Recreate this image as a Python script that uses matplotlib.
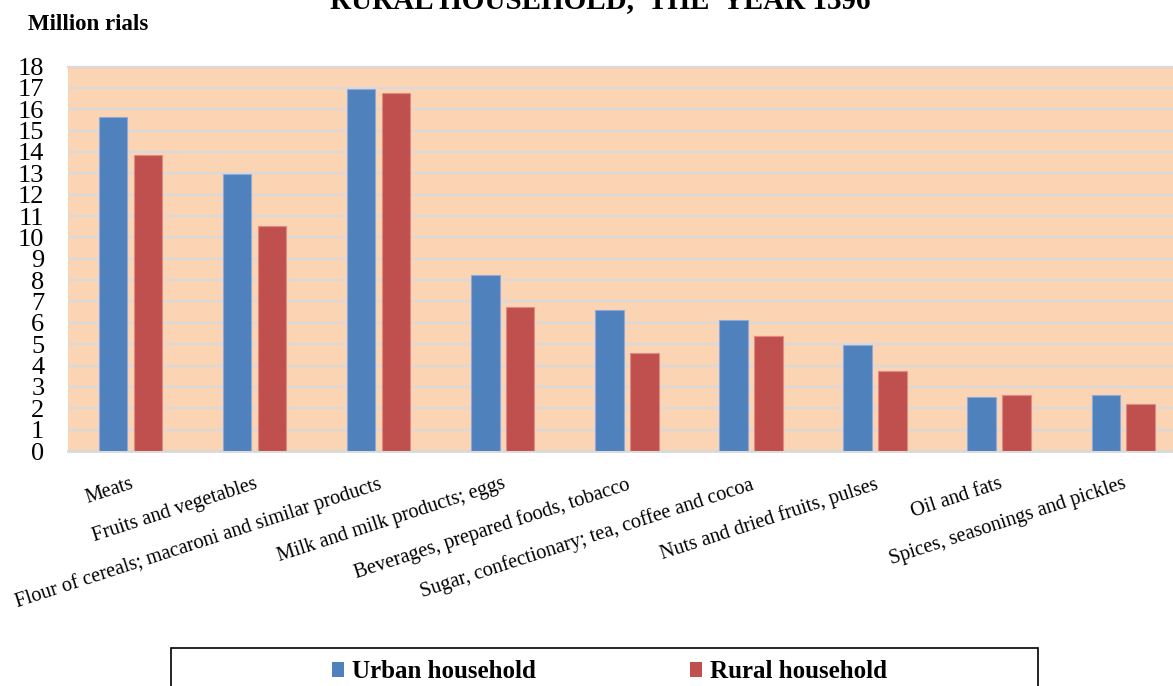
import matplotlib
matplotlib.use("Agg")
import matplotlib.pyplot as plt
import numpy as np
from matplotlib.patches import Rectangle, Patch

plt.rcParams['font.family'] = ['Liberation Serif', 'DejaVu Serif']

categories = [
    "Meats",
    "Fruits and vegetables",
    "Flour of cereals; macaroni and similar products",
    "Milk and milk products; eggs",
    "Beverages, prepared foods, tobacco",
    "Sugar, confectionary; tea, coffee and cocoa",
    "Nuts and dried fruits, pulses",
    "Oil and fats",
    "Spices, seasonings and pickles",
]
urban = [15.64, 12.97, 16.95, 8.23, 6.60, 6.12, 4.98, 2.54, 2.62]
rural = [13.86, 10.51, 16.78, 6.76, 4.57, 5.39, 3.76, 2.62, 2.22]
series_names = ["Urban household", "Rural household"]
yticks = list(range(0, 19))

W, H = 1173, 686
fig = plt.figure(figsize=(W / 100, H / 100), dpi=100)

left_px, right_px = 68, 1185
bot_px, top_px = 451, 66.5
ax = fig.add_axes([left_px / W, 1 - bot_px / H, (right_px - left_px) / W, (bot_px - top_px) / H])
ax.set_facecolor('#FBD4B4')

x = np.arange(len(categories))
bw = 0.23
blue = '#4F81BD'
red = '#C0504D'
ax.bar(x - 0.138, urban, bw, color=blue, edgecolor='#8EAADB', linewidth=0.8, zorder=3)
ax.bar(x + 0.143, rural, bw, color=red, edgecolor='#E08A88', linewidth=0.8, zorder=3)

ax.set_xlim(-0.5, len(categories) - 0.5)
ax.set_ylim(0, 18)
ax.set_yticks(yticks)
ax.set_yticklabels([str(v) for v in yticks], fontsize=19)
ax.yaxis.grid(True, color='#D9D9D9', linewidth=1.6, zorder=1)
ax.set_axisbelow(True)
ax.tick_params(axis='y', length=0, pad=17)

ax.set_xticks(x)
ax.set_xticklabels(categories, rotation=18, ha='right', va='top',
                   rotation_mode='anchor', fontsize=14.6)
ax.tick_params(axis='x', length=0, pad=17)

for s in ['left', 'right']:
    ax.spines[s].set_visible(False)
ax.spines['top'].set_color('#D9D9D9')
ax.spines['top'].set_linewidth(1.6)
ax.spines['bottom'].set_color('#D9D9D9')
ax.spines['bottom'].set_linewidth(2.0)

fig.text(600 / W, 1 - 8 / H, "RURAL HOUSEHOLD,  THE  YEAR 1396", ha='center',
         va='baseline', fontsize=21, fontweight='bold')
fig.text(28 / W, 1 - 30 / H, "Million rials", ha='left', va='baseline',
         fontsize=16.5, fontweight='bold')

# legend frame (extends below the figure edge)
fig.patches.append(Rectangle((171 / W, 1 - 720 / H), (1038 - 171) / W, (720 - 648) / H,
                             transform=fig.transFigure, facecolor='none',
                             edgecolor='black', linewidth=1.2))
handles = [Patch(facecolor=blue), Patch(facecolor=red)]
fig.legend(handles, series_names, loc='center', bbox_to_anchor=(609.5 / W, 1 - 672 / H),
           ncol=2, frameon=False, prop={'weight': 'bold', 'size': 18},
           handlelength=0.48, handleheight=0.55, handletextpad=0.32,
           columnspacing=6.2, borderpad=0)

fig.savefig('out.png', dpi=100)
